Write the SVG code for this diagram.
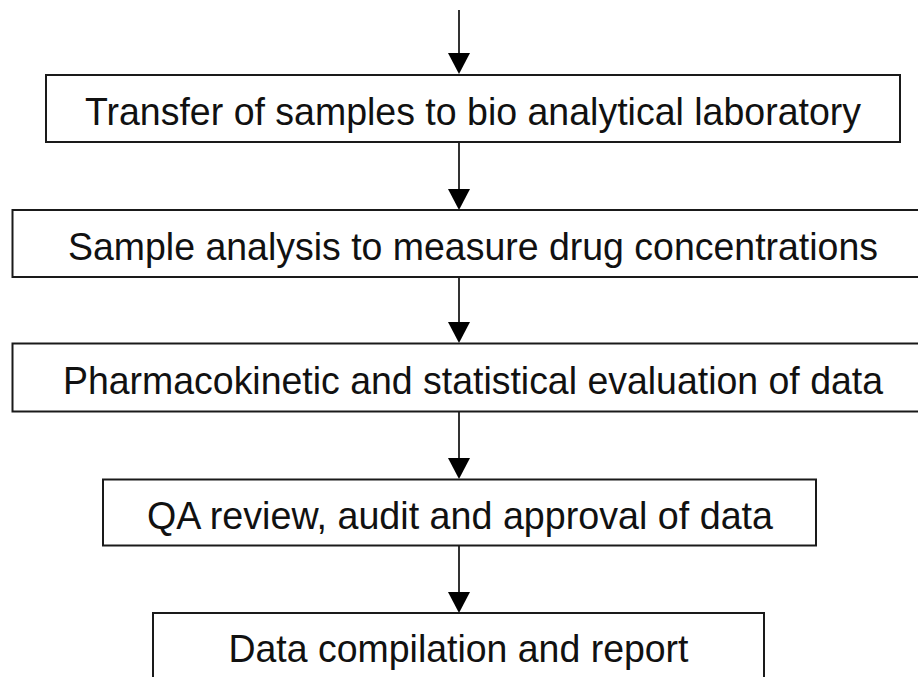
<svg xmlns="http://www.w3.org/2000/svg" width="918" height="677" viewBox="0 0 918 677">
  <defs>
    <style>
      .box { fill: #ffffff; stroke: #1a1a1a; stroke-width: 2; }
      .lbl { font-family: "Liberation Sans", Arial, sans-serif; font-size: 39.5px; fill: #111111; text-anchor: middle; }
      .conn { stroke: #333333; stroke-width: 2; fill: none; marker-end: url(#arrow); }
    </style>
    <marker id="arrow" markerUnits="userSpaceOnUse" viewBox="0 0 21 22" markerWidth="21" markerHeight="22" refX="18" refY="11" orient="auto">
      <path d="M0,0 L21,11 L0,22 Z" fill="#000000"/>
    </marker>
  </defs>
  <rect width="918" height="677" fill="#ffffff"/>

  <g id="connectors">
    <path class="conn" d="M459,10 L459,71"/>
    <path class="conn" d="M459,142 L459,207"/>
    <path class="conn" d="M459,277 L459,340"/>
    <path class="conn" d="M459,412 L459,476"/>
    <path class="conn" d="M459,545.5 L459,610"/>
  </g>

  <g id="node1">
    <rect class="box" x="46" y="75" width="854" height="67"/>
    <text class="lbl" x="473" y="125" textLength="776" lengthAdjust="spacingAndGlyphs">Transfer of samples to bio analytical laboratory</text>
  </g>
  <g id="node2">
    <path class="box" d="M918,210 H12.5 V277 H918"/>
    <text class="lbl" x="473" y="260" textLength="810" lengthAdjust="spacingAndGlyphs">Sample analysis to measure drug concentrations</text>
  </g>
  <g id="node3">
    <path class="box" d="M918,343.5 H12.5 V411.5 H918"/>
    <text class="lbl" x="473" y="393.5" textLength="820" lengthAdjust="spacingAndGlyphs">Pharmacokinetic and statistical evaluation of data</text>
  </g>
  <g id="node4">
    <rect class="box" x="103" y="479.5" width="713" height="66"/>
    <text class="lbl" x="460" y="528.5" textLength="626" lengthAdjust="spacingAndGlyphs">QA review, audit and approval of data</text>
  </g>
  <g id="node5">
    <path class="box" d="M153,677 V613 H764 V677"/>
    <text class="lbl" x="458.5" y="662" textLength="460" lengthAdjust="spacingAndGlyphs">Data compilation and report</text>
  </g>
</svg>
